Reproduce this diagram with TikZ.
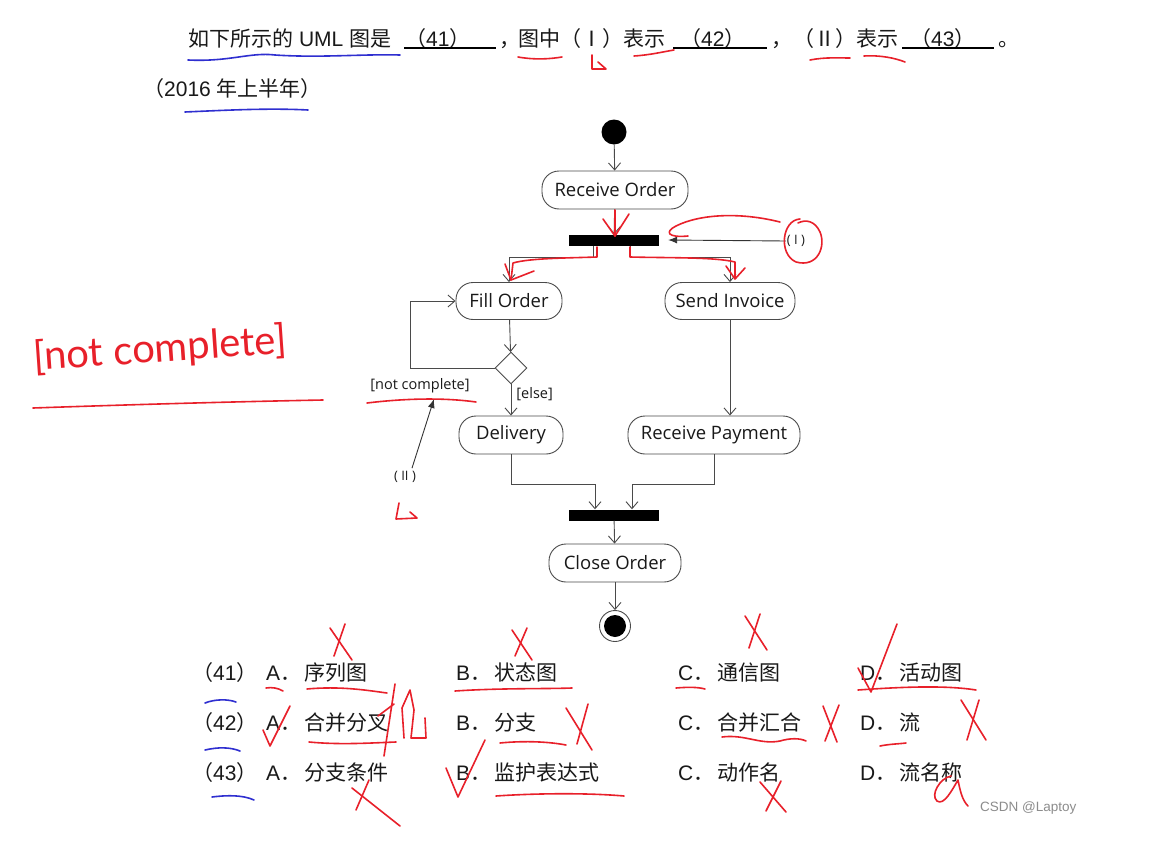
\documentclass[tikz,border=0pt]{standalone}
\usepackage{fontspec}
\setmainfont{Liberation Sans}
\newfontfamily\cjk{Noto Sans CJK SC}
\newfontfamily\dia{Open Sans}
\newfontfamily\hand{Lato}
\usetikzlibrary{arrows.meta,shapes.geometric,calc}
\definecolor{hred}{HTML}{E8202A}
\definecolor{hblue}{HTML}{2F2FD0}
\definecolor{ln}{HTML}{4A4A4A}
\begin{document}
\begin{tikzpicture}[x=1pt,y=-1pt,
  act/.style={draw=ln, line width=0.9pt, rounded corners=17pt, minimum height=38pt, inner sep=0pt, font=\dia\fontsize{18.5}{20}\selectfont, text=black!90},
  bar/.style={fill=black, minimum width=90pt, minimum height=11pt, inner sep=0pt},
  flow/.style={draw=ln, line width=0.9pt, -{Straight Barb[length=7pt,width=12pt,line width=0.9pt]}},
  ptr/.style={draw=black!80, line width=0.9pt, -{Latex[length=9pt,width=7pt]}},
  guard/.style={font=\dia\fontsize{14.5}{16}\selectfont, text=black!90, inner sep=1pt},
  txt/.style={anchor=base west, inner sep=0pt, font=\fontsize{21}{25}\selectfont, text=black!90},
  red/.style={draw=hred, line width=1.6pt, line cap=round, line join=round},
  blue/.style={draw=hblue, line width=1.6pt, line cap=round},
]
\useasboundingbox (0,0) rectangle (1171,862);
\fill[white] (0,0) rectangle (1171,862);

% ---------- question text ----------
\node[txt] (t1) at (188,46) {{\cjk 如下所示的} UML {\cjk 图是}};
\node[txt] (t2) at (405,46) {{\cjk （}41{\cjk ）}};
\draw[line width=1.2pt] (404,48) -- (496,48);
\node[txt] (t3) at (499,46) {{\cjk ，}};
\node[txt] (t4) at (518,46) {{\cjk 图中（Ⅰ）表示}};
\node[txt] (t5) at (680,46) {{\cjk （}42{\cjk ）}};
\draw[line width=1.2pt] (673,48) -- (767,48);
\node[txt] (t6) at (771,46) {{\cjk ，}};
\node[txt] (t7) at (793,46) {{\cjk （Ⅱ）表示}};
\node[txt] (t8) at (910,46) {{\cjk （}43{\cjk ）}};
\draw[line width=1.2pt] (902,48) -- (994,48);
\node[txt] (t9) at (998,46) {{\cjk 。}};
\node[txt] (t10) at (143,96) {{\cjk （}2016 {\cjk 年上半年）}};

% ---------- activity diagram ----------
\node[circle, fill=black, minimum size=25pt, inner sep=0pt] (start) at (614,132) {};
\node[act, minimum width=146pt] (ro) at (615,190) {Receive Order};
\node[bar] (fork) at (614,240) {};
\node[act, minimum width=106pt, minimum height=37pt] (fo) at (509,301) {Fill Order};
\node[act, minimum width=130pt, minimum height=37pt] (si) at (730,301) {Send Invoice};
\node[diamond, draw=ln, line width=0.9pt, minimum width=32pt, minimum height=32pt, inner sep=0pt] (dec) at (511,368) {};
\node[act, minimum width=104pt] (del) at (511,435) {Delivery};
\node[act, minimum width=172pt] (rp) at (714,435) {Receive Payment};
\node[bar] (join) at (614,515) {};
\node[act, minimum width=132pt] (co) at (615,563) {Close Order};
\node[circle, draw=ln, line width=0.9pt, minimum size=31pt, inner sep=0pt] (end) at (615,626) {};
\node[circle, fill=black, minimum size=22pt, inner sep=0pt] (endin) at (end) {};

\draw[flow] (start) -- (ro);
\draw[flow] (ro) -- (fork);
\draw[flow] ([xshift=-21pt]fork.south) -- ++(0,12) -| (fo.north);
\draw[flow] ([xshift=16pt]fork.south) -- ++(0,12) -| (si.north);
\draw[flow] (fo) -- (dec);
\draw[flow] (dec.west) -- (410,368) |- (fo.west);
\draw[flow] (dec.south) -- (del.north) node[guard, pos=0.3, anchor=west, xshift=4pt] (else) {[else]};
\draw[flow] (si.south) -- (si.south |- rp.north);
\draw[flow] (del.south) -- ++(0,30) -| ([xshift=-19pt]join.north);
\draw[flow] (rp.south) -- ++(0,30) -| ([xshift=18pt]join.north);
\draw[flow] (join) -- (co);
\draw[flow] (co) -- (end);

\node[guard] (nc) at (420,386) {[not complete]};
\node[guard, font=\dia\fontsize{13}{15}\selectfont] (lI) at (796,241) {( I )};
\node[guard, font=\dia\fontsize{13}{15}\selectfont] (lII) at (405,477) {( II )};
\coordinate (ncpt) at (434,399);
\draw[ptr] (lI.west) -- ([xshift=9pt]fork.east);
\draw[ptr] (lII.north) ++(7,-2) -- (ncpt);

% ---------- options ----------
\foreach \n/\y in {41/680,42/730,43/780}{
  \node[txt] at (192,\y) {{\cjk （}\n{\cjk ）}};
}
\newcommand\opt[2]{#1{\cjk ．}\hspace{3pt}{\cjk #2}}
\node[txt] at (266,680) {\opt{A}{序列图}};
\node[txt] at (456,680) {\opt{B}{状态图}};
\node[txt] at (678,680) {\opt{C}{通信图}};
\node[txt] at (860,680) {\opt{D}{活动图}};
\node[txt] at (266,730) {\opt{A}{合并分叉}};
\node[txt] at (456,730) {\opt{B}{分支}};
\node[txt] at (678,730) {\opt{C}{合并汇合}};
\node[txt] at (860,730) {\opt{D}{流}};
\node[txt] at (266,780) {\opt{A}{分支条件}};
\node[txt] at (456,780) {\opt{B}{监护表达式}};
\node[txt] at (678,780) {\opt{C}{动作名}};
\node[txt] at (860,780) {\opt{D}{流名称}};
\node[anchor=base west, inner sep=0pt, text=black!45, font=\fontsize{13.5}{15}\selectfont] at (980,811) {CSDN @Laptoy};

% ---------- handwritten annotations (blue) ----------
\draw[blue] (188,60) .. controls (230,62) and (250,52) .. (275,55) .. controls (320,58) and (360,54) .. (400,55);
\draw[blue] (185,112) .. controls (230,110) and (270,108) .. (308,110);
\draw[blue] (205,703) .. controls (215,699) and (228,699) .. (236,702);
\draw[blue] (205,750) .. controls (218,747) and (230,747) .. (240,751);
\draw[blue] (212,797) .. controls (228,795) and (243,795) .. (254,800);

% ---------- handwritten annotations (red) ----------
\draw[red] (518,57) .. controls (535,60) and (550,59) .. (562,57);
\draw[red] (592,55) -- (592,69) -- (606,69) -- (598,62);
\draw[red] (634,56) .. controls (650,55) and (662,52) .. (674,50);
\draw[red] (810,60) .. controls (825,57) and (840,58) .. (850,58);
\draw[red] (864,56) .. controls (880,55) and (895,58) .. (905,62);
% diagram overlay
\draw[red] (615,210) -- (615,236);
\draw[red] (603,219) -- (615,236) -- (629,214);
\draw[red] (780,222) .. controls (740,212) and (700,214) .. (676,226) .. controls (664,232) and (668,238) .. (688,236);
\draw[red] (800,219) .. controls (782,220) and (778,254) .. (796,262) .. controls (818,268) and (826,246) .. (820,232) .. controls (815,221) and (806,219) .. (798,223);
\draw[red] (597,247) -- (597,257) .. controls (570,258) and (530,258) .. (513,263) -- (511,280);
\draw[red] (505,264) -- (511,280) -- (534,271);
\draw[red] (630,247) -- (630,257) .. controls (670,258) and (715,257) .. (735,262) -- (735,278);
\draw[red] (726,266) -- (735,279) -- (745,268);
\draw[red] (367,403) .. controls (400,399) and (440,397) .. (476,402);
\draw[red] (399,503) -- (396,519) -- (417,518) -- (410,512);
% big handwritten label
\node[text=hred, font=\hand\fontsize{40}{42}\selectfont, rotate=4, inner sep=0pt] (hw) at (160,350) {[not complete]};
\draw[red] (33,408) .. controls (120,405) and (220,402) .. (323,400);
% options row 1
\draw[red] (330,628) -- (352,660); \draw[red] (345,624) -- (334,656);
\draw[red] (512,630) -- (532,660); \draw[red] (527,628) -- (515,656);
\draw[red] (745,616) -- (767,650); \draw[red] (760,614) -- (749,648);
\draw[red] (858,668) -- (871,692) -- (897,624);
\draw[red] (266,688) .. controls (272,687) and (278,688) .. (283,691);
\draw[red] (307,689) .. controls (340,686) and (365,690) .. (387,693);
\draw[red] (455,691) .. controls (500,688) and (545,689) .. (572,688);
\draw[red] (676,688) .. controls (688,687) and (698,687) .. (705,689);
\draw[red] (858,690) .. controls (900,687) and (945,685) .. (976,690);
% options row 2
\draw[red] (263,730) -- (270,746) -- (290,706);
\draw[red] (309,742) .. controls (340,745) and (370,743) .. (396,742);
\draw[red] (395,684) -- (384,756); \draw[red] (378,716) -- (394,704);
\draw[red] (404,738) -- (402,708) -- (410,690) -- (414,710) -- (411,738) -- (426,738) -- (425,718);
\draw[red] (500,743) .. controls (520,741) and (545,741) .. (566,745);
\draw[red] (566,708) -- (592,750); \draw[red] (588,704) -- (577,744);
\draw[red] (722,737) .. controls (745,734) and (760,745) .. (780,741) .. controls (790,738) and (800,738) .. (806,741);
\draw[red] (823,706) -- (837,742); \draw[red] (839,705) -- (825,741);
\draw[red] (880,746) .. controls (890,744) and (898,744) .. (906,743);
\draw[red] (961,700) -- (986,740); \draw[red] (979,700) -- (967,740);
% options row 3
\draw[red] (352,788) -- (400,826); \draw[red] (369,780) -- (356,810);
\draw[red] (446,768) -- (458,797) -- (485,740);
\draw[red] (496,796) .. controls (540,793) and (590,793) .. (624,796);
\draw[red] (760,782) -- (786,812); \draw[red] (781,781) -- (766,811);
\draw[red] (951,776) .. controls (940,778) and (930,795) .. (937,801) .. controls (944,806) and (952,790) .. (958,780) .. controls (960,790) and (962,800) .. (968,806);
\end{tikzpicture}
\end{document}
